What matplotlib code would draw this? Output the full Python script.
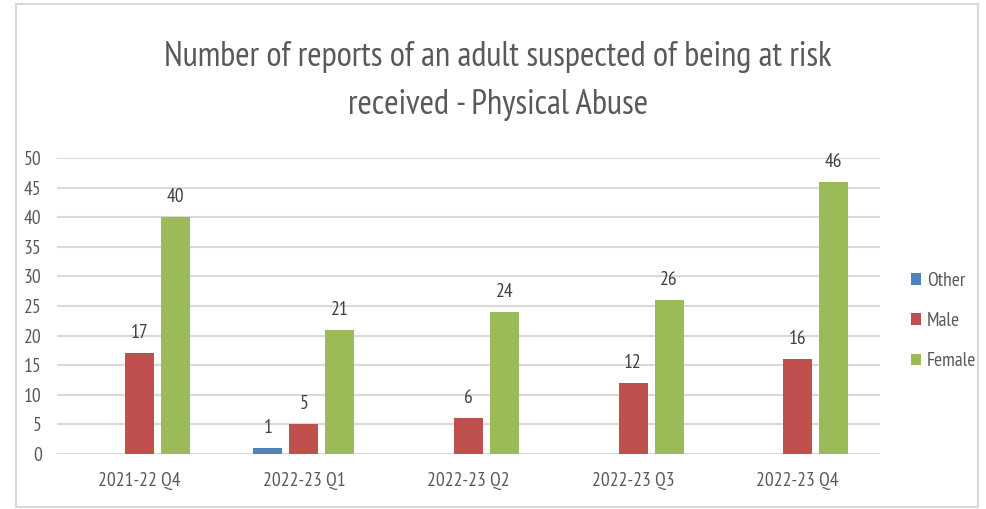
import numpy as np
import matplotlib.pyplot as plt
from matplotlib.patches import Rectangle

quarters = ["2021-22 Q4", "2022-23 Q1", "2022-23 Q2", "2022-23 Q3", "2022-23 Q4"]
other = [0, 1, 0, 0, 0]
male = [17, 5, 6, 12, 16]
female = [40, 21, 24, 26, 46]

series = [("Other", other, "#4f81bd"), ("Male", male, "#c0504d"), ("Female", female, "#9bbb59")]

plt.rcParams['font.family'] = ['PT Sans Narrow', 'DejaVu Sans']
grey = "#595959"

fig = plt.figure(figsize=(9.86, 5.09), dpi=100)
fig.patches.append(Rectangle((16 / 986, 2 / 509), 962 / 986, 503 / 509, transform=fig.transFigure,
                             fill=False, edgecolor="#d9d9d9", linewidth=1.5))

ax = fig.add_axes([57 / 986, 55 / 509, 823 / 986, 296 / 509])
x = np.arange(len(quarters))
width = 0.176
step = 0.219

for i, (name, vals, col) in enumerate(series):
    pos = x + (i - 1) * step
    bars = ax.bar(pos, vals, width, color=col, label=name, zorder=3)
    for b, v in zip(bars, vals):
        if v > 0:
            ax.annotate(str(v), (b.get_x() + b.get_width() / 2, v), xytext=(0, 8),
                        textcoords="offset points", ha="center", va="bottom",
                        fontsize=14, color="#404040")

ax.set_xlim(-0.5, len(quarters) - 0.5)
ax.set_ylim(0, 50)
ax.set_yticks(range(0, 51, 5))
ax.set_xticks(x)
ax.set_xticklabels(quarters)
ax.grid(axis="y", color="#d9d9d9", linewidth=1.5, zorder=0)
for s in ax.spines.values():
    s.set_visible(False)
ax.tick_params(length=0, labelsize=14, colors=grey)
ax.tick_params(axis="x", pad=13)
ax.tick_params(axis="y", pad=11)

fig.text(498 / 986, 1 - 57 / 509, "Number of reports of an adult suspected of being at risk",
         ha="center", va="center", fontsize=25, color=grey)
fig.text(498 / 986, 1 - 105 / 509, "received - Physical Abuse",
         ha="center", va="center", fontsize=25, color=grey)

ax.legend(loc="center left", bbox_to_anchor=(893 / 986, 1 - 321 / 509), bbox_transform=fig.transFigure,
          frameon=False, handlelength=0.55, handleheight=0.55, handletextpad=0.3,
          labelspacing=1.15, fontsize=14, labelcolor=grey)

fig.savefig("out.png", dpi=100)
